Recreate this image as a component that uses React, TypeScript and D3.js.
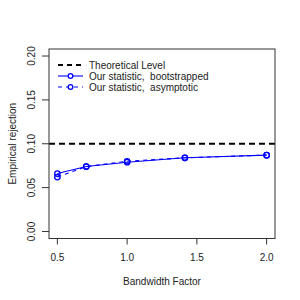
import React, { useEffect, useRef } from 'react';
import * as d3 from 'd3';

// bandwidth factors (0.5 * sqrt(2)^k)
const bandwidths = [0.5, 0.707, 1.0, 1.414, 2.0];
const bootstrapped = [0.066, 0.074, 0.079, 0.084, 0.087];
const asymptotic = [0.062, 0.074, 0.080, 0.084, 0.087];
const theoreticalLevel = 0.1;
const xTicks = [0.5, 1.0, 1.5, 2.0];
const yTicks = [0, 0.05, 0.1, 0.15, 0.2];
const legendLabels = ['Theoretical Level', 'Our statistic,  bootstrapped', 'Our statistic,  asymptotic'];

const App = () => {
    const ref = useRef<SVGSVGElement>(null);

    useEffect(() => {
        if (!ref.current) return;
        const svg = d3.select(ref.current);
        svg.selectAll('*').remove();

        const left = 49, right = 275, top = 49, bottom = 238.5;
        const font = 'Liberation Sans, Arial, sans-serif';

        // R style 4% padding around the limits
        const xPad = (2.0 - 0.5) * 0.04;
        const yPad = 0.2 * 0.04;
        const x = d3.scaleLinear().domain([0.5 - xPad, 2.0 + xPad]).range([left, right]);
        const y = d3.scaleLinear().domain([0 - yPad, 0.2 + yPad]).range([bottom, top]);

        svg.append('rect')
            .attr('width', 300).attr('height', 300).attr('fill', '#fff');

        // axes
        const xAxis = svg.append('g').attr('transform', `translate(0,${bottom})`);
        xTicks.forEach(t => {
            xAxis.append('line')
                .attr('x1', x(t)).attr('x2', x(t)).attr('y1', 0).attr('y2', 6)
                .attr('stroke', '#333');
            xAxis.append('text')
                .attr('x', x(t)).attr('y', 22)
                .attr('text-anchor', 'middle')
                .style('font-family', font).style('font-size', '10px').style('fill', '#222')
                .text(d3.format('.1f')(t));
        });

        const yAxis = svg.append('g').attr('transform', `translate(${left},0)`);
        yTicks.forEach(t => {
            yAxis.append('line')
                .attr('x1', -7).attr('x2', 0).attr('y1', y(t)).attr('y2', y(t))
                .attr('stroke', '#333');
            yAxis.append('text')
                .attr('transform', `translate(-14,${y(t)}) rotate(-90)`)
                .attr('text-anchor', 'middle')
                .style('font-family', font).style('font-size', '10px').style('fill', '#222')
                .text(d3.format('.2f')(t));
        });

        // axis titles
        svg.append('text')
            .attr('x', (left + right) / 2).attr('y', 285)
            .attr('text-anchor', 'middle')
            .style('font-family', font).style('font-size', '10px').style('fill', '#222')
            .text('Bandwidth Factor');

        svg.append('text')
            .attr('transform', `translate(16,${(top + bottom) / 2}) rotate(-90)`)
            .attr('text-anchor', 'middle')
            .style('font-family', font).style('font-size', '10px').style('fill', '#222')
            .text('Empirical rejection');

        // theoretical level
        svg.append('line')
            .attr('x1', left).attr('x2', right)
            .attr('y1', y(theoreticalLevel)).attr('y2', y(theoreticalLevel))
            .attr('stroke', '#000').attr('stroke-width', 2)
            .attr('stroke-dasharray', '6,4');

        const line = d3.line<number>()
            .x((d, i) => x(bandwidths[i]))
            .y(d => y(d));

        const series = [
            { values: bootstrapped, dash: null },
            { values: asymptotic, dash: '4,4' },
        ];

        series.forEach(s => {
            svg.append('path')
                .attr('d', line(s.values))
                .attr('fill', 'none')
                .attr('stroke', '#0000ff')
                .attr('stroke-width', 1.1)
                .attr('stroke-dasharray', s.dash);
            svg.selectAll(null)
                .data(s.values)
                .enter().append('circle')
                .attr('cx', (d, i) => x(bandwidths[i]))
                .attr('cy', d => y(d))
                .attr('r', 2.7)
                .attr('fill', 'none')
                .attr('stroke', '#0000ff')
                .attr('stroke-width', 1.3);
        });

        // legend (no box)
        const legend = svg.append('g');
        legendLabels.forEach((label, i) => {
            const ly = 65 + i * 11;
            if (i === 0) {
                legend.append('line')
                    .attr('x1', 58).attr('x2', 83).attr('y1', ly).attr('y2', ly)
                    .attr('stroke', '#000').attr('stroke-width', 2)
                    .attr('stroke-dasharray', '5,4');
            } else {
                legend.append('line')
                    .attr('x1', 58).attr('x2', 83).attr('y1', ly).attr('y2', ly)
                    .attr('stroke', '#0000ff').attr('stroke-width', 1.1)
                    .attr('stroke-dasharray', i === 2 ? '4,4' : null);
                legend.append('circle')
                    .attr('cx', 70.5).attr('cy', ly).attr('r', 2.3)
                    .attr('fill', '#fff')
                    .attr('stroke', '#0000ff').attr('stroke-width', 1.3);
            }
            legend.append('text')
                .attr('x', 89).attr('y', ly + 3.6)
                .style('font-family', font).style('font-size', '10px').style('fill', '#222')
                .style('white-space', 'pre')
                .text(label);
        });

        // plot box
        svg.append('rect')
            .attr('x', left).attr('y', top)
            .attr('width', right - left).attr('height', bottom - top)
            .attr('fill', 'none').attr('stroke', '#333').attr('stroke-width', 1);
    }, []);

    return <svg ref={ref} width={300} height={300} style={{ display: 'block', position: 'absolute', left: 0, top: 0 }}></svg>;
};

export default App;
